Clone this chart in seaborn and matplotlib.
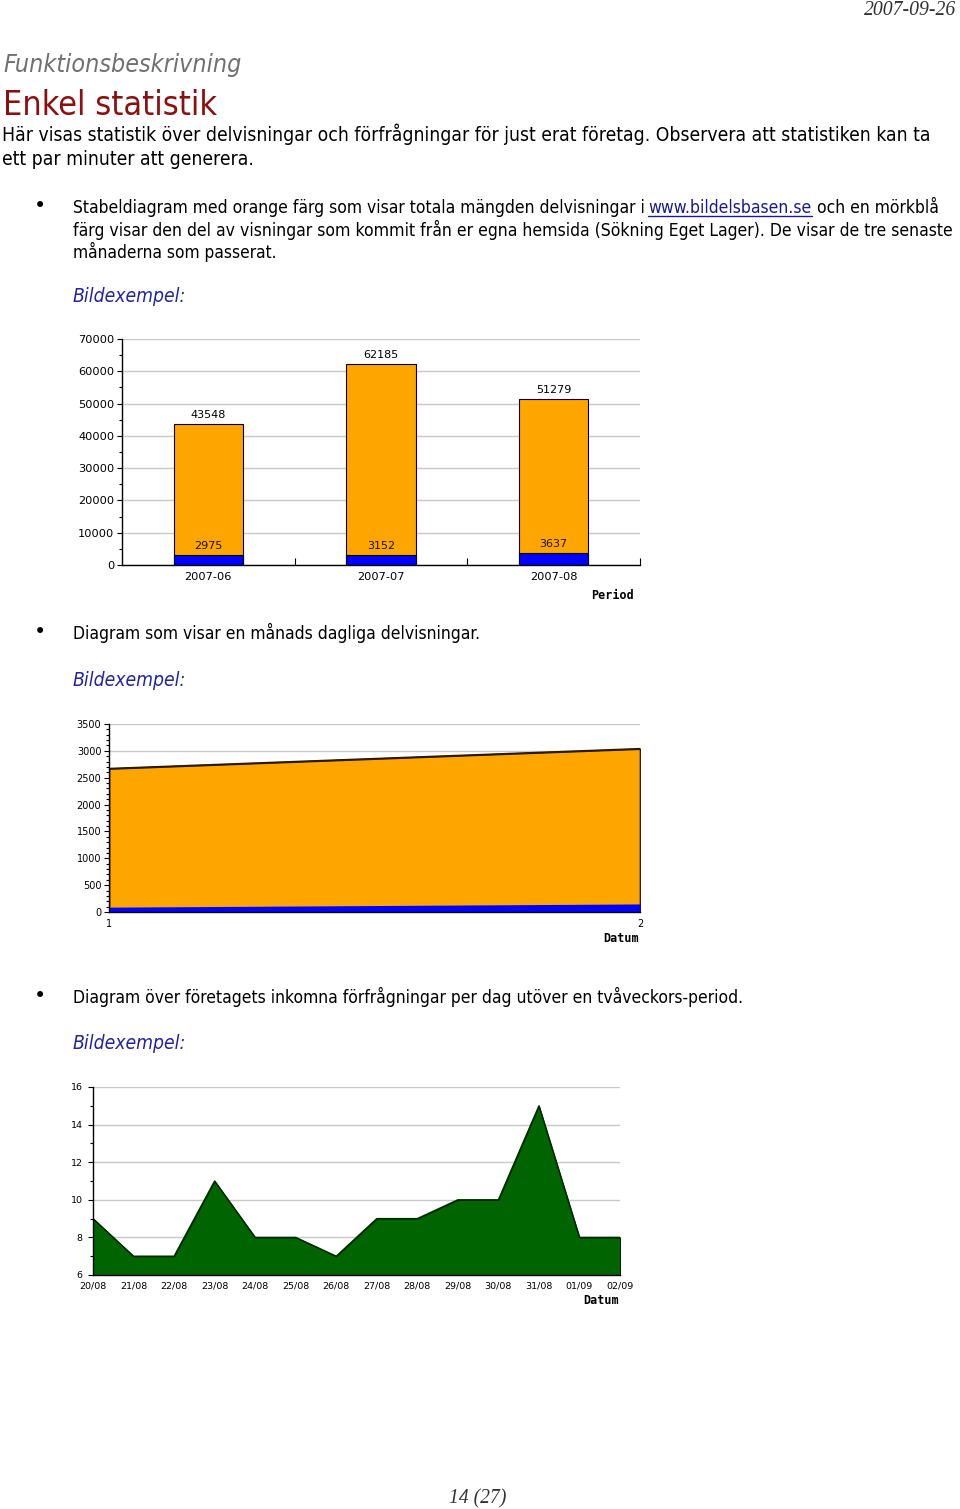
import matplotlib
matplotlib.use("Agg")
import matplotlib.pyplot as plt
import seaborn as sns
import pandas as pd
from matplotlib.lines import Line2D
from matplotlib.ticker import MultipleLocator

# stacked bars: views per month (orange = total, blue = from own site)
periods = ["2007-06", "2007-07", "2007-08"]
total_views = [43548, 62185, 51279]
own_site_views = [2975, 3152, 3637]

# daily views for one month
days = [1, 2]
daily_total = [2670, 3040]
daily_own = [90, 150]

# enquiries per day over two weeks
dates = ["20/08", "21/08", "22/08", "23/08", "24/08", "25/08", "26/08",
         "27/08", "28/08", "29/08", "30/08", "31/08", "01/09", "02/09"]
enquiries = [9, 7, 7, 11, 8, 8, 7, 9, 9, 10, 10, 15, 8, 8]

sns.set_theme(style="white")
plt.rcParams["font.family"] = ["DejaVu Sans"]
plt.rcParams["text.color"] = "black"
plt.rcParams["xtick.color"] = "black"
plt.rcParams["ytick.color"] = "black"

W, H = 960, 1509
fig = plt.figure(figsize=(W / 100, H / 100), dpi=100)
renderer = fig.canvas.get_renderer()


def px(x, y):
    return x / W, 1 - y / H


def put(x, y, s, right=None, **kw):
    # place text at pixel baseline, optionally stretch font size to reach `right`
    t = fig.text(*px(x, y), s, va="baseline", **kw)
    if right is not None:
        w = t.get_window_extent(renderer).width
        t.set_fontsize(t.get_fontsize() * (right - x) / w)
    return t


body = dict(family=["DejaVu Sans"], fontstretch="condensed", fontsize=12, color="black")
blue_i = dict(family=["DejaVu Sans"], fontstretch="condensed", fontsize=12,
              color="#2323a3", style="italic")

# page header / footer
put(864, 15, "2007-09-26", right=956, family=["Liberation Serif"], style="italic",
    fontsize=13, color="#333333")
put(449, 1503, "14 (27)", right=506, family=["Liberation Serif"], style="italic",
    fontsize=13, color="#333333")

put(3, 72, "Funktionsbeskrivning", right=242, family=["DejaVu Sans"],
    fontstretch="condensed", style="italic", fontsize=16, color="#707070")
put(3, 115, "Enkel statistik", right=218, family=["DejaVu Sans"],
    fontstretch="condensed", fontsize=24, color="#8b1010")

put(2, 141, "Här visas statistik över delvisningar och förfrågningar för just erat företag. "
            "Observera att statistiken kan ta", right=933, **body)
put(2, 165, "ett par minuter att generera.", right=254, **body)

bullet = dict(ha="center", va="center", fontsize=15, color="black")

# bullet 1
fig.text(*px(40, 206), "•", **bullet)
put(73, 213, "Stabeldiagram med orange färg som visar totala mängden delvisningar i",
    right=644, **body)
put(648, 213, "www.bildelsbasen.se", right=812,
    **{**body, "color": "#1a1a8c"})
fig.add_artist(Line2D([648 / W, 812 / W], [1 - 216 / H, 1 - 216 / H],
                      color="#1a1a8c", lw=1))
put(817, 213, "och en mörkblå", right=939, **body)
put(73, 236, "färg visar den del av visningar som kommit från er egna hemsida "
             "(Sökning Eget Lager). De visar de tre senaste", right=953, **body)
put(73, 258, "månaderna som passerat.", right=277, **body)
put(73, 302, "Bildexempel:", right=186, **blue_i)

# bullet 2
fig.text(*px(40, 632), "•", **bullet)
put(73, 639, "Diagram som visar en månads dagliga delvisningar.", right=480, **body)
put(73, 686, "Bildexempel:", right=186, **blue_i)

# bullet 3
fig.text(*px(40, 996), "•", **bullet)
put(73, 1003, "Diagram över företagets inkomna förfrågningar per dag utöver en "
              "tvåveckors-period.", right=743, **body)
put(73, 1049, "Bildexempel:", right=186, **blue_i)

grid_kw = dict(color="#c8c8c8", lw=1)
unit = dict(family=["DejaVu Sans Mono"], weight="bold", fontsize=8.5,
            ha="center", va="center", color="black")


def style_axes(ax, size):
    ax.set_facecolor("white")
    ax.spines["top"].set_visible(False)
    ax.spines["right"].set_visible(False)
    for s in ("left", "bottom"):
        ax.spines[s].set_color("black")
        ax.spines[s].set_linewidth(1)
    ax.yaxis.grid(True, **grid_kw)
    ax.set_axisbelow(True)
    ax.tick_params(axis="y", which="major", direction="out", length=3.5, width=0.8,
                   color="black", labelsize=size, labelcolor="black", pad=2, left=True)
    ax.tick_params(axis="y", which="minor", direction="out", length=2, width=0.8,
                   color="black", left=True)
    ax.tick_params(axis="x", labelsize=size, labelcolor="black")
    ax.set_xlabel("")
    ax.set_ylabel("")


# chart 1: stacked monthly bars
bars = pd.DataFrame({"period": periods, "total": total_views, "own": own_site_views})
ax1 = fig.add_axes([122 / W, 1 - 565 / H, 518 / W, 226 / H])
sns.barplot(bars, x="period", y="total", color="#ffa500", saturation=1, width=0.4,
            edgecolor="black", linewidth=0.8, errorbar=None, ax=ax1)
sns.barplot(bars, x="period", y="own", color="#0000ff", saturation=1, width=0.4,
            edgecolor="black", linewidth=0.8, errorbar=None, ax=ax1)
ax1.bar_label(ax1.containers[0], fontsize=8, padding=3, color="black")
ax1.bar_label(ax1.containers[1], fontsize=8, padding=3, color="#1a1000")
ax1.set_ylim(0, 70000)
ax1.set_xlim(-0.5, 2.5)
ax1.yaxis.set_major_locator(MultipleLocator(10000))
ax1.yaxis.set_minor_locator(MultipleLocator(5000))
style_axes(ax1, 8.2)
ax1.tick_params(axis="x", which="major", length=0, pad=5)
ax1.set_xticks([0.5, 1.5, 2.5], minor=True)
ax1.tick_params(axis="x", which="minor", direction="in", length=5, width=0.8,
                color="black", bottom=True)
fig.text(*px(612, 595), "Period", **unit)

# chart 2: daily views area
ax2 = fig.add_axes([109 / W, 1 - 912 / H, 531 / W, 188 / H])
ax2.fill_between(days, daily_total, color="#ffa500", edgecolor="#2b1a00", lw=1.2)
sns.lineplot(x=days, y=daily_total, color="#2b1a00", lw=1.2, ax=ax2)
ax2.fill_between(days, daily_own, color="#0000ff", lw=0)
ax2.set_ylim(0, 3500)
ax2.set_xlim(1, 2)
ax2.yaxis.set_major_locator(MultipleLocator(500))
ax2.yaxis.set_minor_locator(MultipleLocator(100))
ax2.set_xticks(days)
style_axes(ax2, 7)
ax2.tick_params(axis="x", which="major", length=0, pad=5)
fig.text(*px(621, 938), "Datum", **unit)

# chart 3: enquiries per day
ax3 = fig.add_axes([93 / W, 1 - 1275 / H, 527 / W, 188 / H])
xs = list(range(len(dates)))
ax3.fill_between(xs, enquiries, 6, facecolor="#006400", edgecolor="#002200", lw=0.8)
sns.lineplot(x=xs, y=enquiries, color="#002a00", lw=1, ax=ax3)
ax3.set_ylim(6, 16)
ax3.set_xlim(0, len(dates) - 1)
ax3.yaxis.set_major_locator(MultipleLocator(2))
ax3.yaxis.set_minor_locator(MultipleLocator(1))
ax3.set_xticks(xs)
ax3.set_xticklabels(dates)
style_axes(ax3, 6.8)
ax3.tick_params(axis="y", which="major", pad=4)
ax3.tick_params(axis="x", which="major", length=0, pad=5)
fig.text(*px(601, 1301), "Datum", **unit)

fig.savefig("out.png", dpi=100, facecolor="white")
